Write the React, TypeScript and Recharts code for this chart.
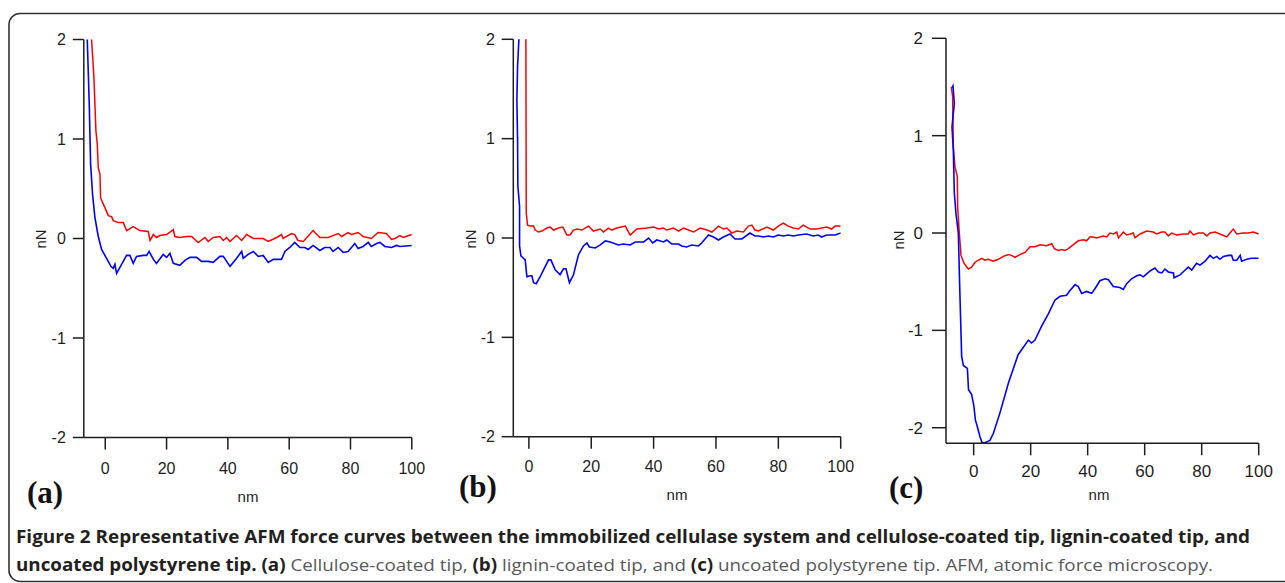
import React from "react";
import { LineChart, Line, XAxis, YAxis } from "recharts";

// ---------- Panel (a): cellulose-coated tip ----------
const aRedX = [-4.55, -4.46, -3.7, -3.04, -2.61, -2.28, -1.74, -1.52, -0.87, -0.11, 0.98, 2.07, 2.61, 4.24, 5.87, 6.96, 9.13, 11.3, 14.0, 14.6, 15.7, 16.7, 17.8, 20.0, 22.2, 22.7, 24.3, 26.5, 28.2, 30.3, 32.5, 33.6, 35.2, 37.4, 38.5, 39.6, 40.7, 42.8, 44.5, 46.1, 48.3, 51.5, 53.2, 55.9, 57.5, 58.0, 60.8, 61.8, 62.9, 64.6, 67.8, 70.0, 72.7, 76.0, 77.1, 79.2, 80.3, 82.5, 84.1, 86.8, 89.0, 91.7, 93.4, 94.5, 96.1, 97.2, 100];
const aRedY = [2.5, 2.0, 1.62, 1.08, 0.95, 0.71, 0.65, 0.41, 0.36, 0.31, 0.23, 0.22, 0.18, 0.16, 0.16, 0.08, 0.12, 0.08, 0.07, -0.02, 0.04, 0.01, 0.03, 0.04, 0.09, 0.02, 0.01, 0.02, 0.02, -0.04, 0.01, -0.03, 0.01, 0.02, -0.02, 0.01, -0.03, 0.03, -0.02, 0.04, 0.0, 0.0, -0.03, 0.01, 0.04, 0.0, 0.05, 0.04, -0.02, -0.03, 0.08, 0.01, 0.01, 0.05, 0.02, 0.06, 0.04, 0.06, 0.02, 0.0, 0.06, 0.05, -0.01, 0.0, 0.03, 0.01, 0.04];
const aBlueX = [-6.0, -5.87, -5.22, -4.78, -4.13, -3.37, -2.28, -1.2, 0.43, 1.85, 2.61, 3.15, 3.7, 5.33, 6.96, 8.04, 9.13, 10.2, 12.4, 13.5, 14.3, 15.7, 16.7, 18.9, 20.0, 21.1, 22.2, 24.3, 26.0, 27.6, 29.8, 31.4, 33.6, 35.2, 37.4, 38.5, 39.6, 40.7, 42.8, 44.5, 45.0, 46.6, 48.3, 49.9, 51.5, 53.2, 54.8, 57.5, 58.6, 60.2, 61.8, 63.5, 65.1, 66.2, 67.8, 70.0, 71.6, 73.3, 74.3, 76.0, 77.6, 79.2, 81.4, 82.5, 84.1, 85.8, 86.8, 88.5, 89.6, 91.2, 93.4, 95.0, 96.1, 100];
const aBlueY = [2.5, 2.0, 1.35, 0.75, 0.44, 0.21, 0.02, -0.11, -0.2, -0.28, -0.3, -0.26, -0.35, -0.26, -0.17, -0.17, -0.25, -0.18, -0.17, -0.17, -0.13, -0.21, -0.25, -0.16, -0.19, -0.15, -0.25, -0.27, -0.22, -0.19, -0.19, -0.23, -0.23, -0.24, -0.18, -0.18, -0.23, -0.28, -0.2, -0.13, -0.2, -0.16, -0.13, -0.18, -0.17, -0.24, -0.21, -0.21, -0.13, -0.09, -0.04, -0.09, -0.09, -0.11, -0.07, -0.12, -0.09, -0.09, -0.13, -0.09, -0.14, -0.13, -0.05, -0.1, -0.08, -0.04, -0.08, -0.05, -0.04, -0.08, -0.09, -0.07, -0.08, -0.07];

// ---------- Panel (b): lignin-coated tip ----------
const bRedX = [-1.0, -0.96, -0.85, -0.43, 0.43, 1.5, 2.03, 3.1, 4.17, 5.77, 6.84, 7.9, 9.5, 10.9, 12.2, 13.2, 14.3, 15.4, 17.0, 19.1, 20.7, 22.9, 23.9, 25.5, 26.6, 28.2, 30.9, 32.5, 34.6, 37.8, 40.0, 41.6, 43.2, 44.2, 46.4, 48.0, 49.6, 51.2, 52.8, 54.9, 57.1, 58.7, 60.8, 62.4, 63.5, 65.1, 66.7, 68.8, 70.4, 71.5, 72.5, 73.6, 76.3, 78.4, 80.0, 81.6, 83.2, 84.8, 86.4, 88.0, 90.2, 92.3, 95.5, 97.1, 98.2, 100];
const bRedY = [2.5, 2.0, 0.25, 0.13, 0.12, 0.12, 0.08, 0.06, 0.07, 0.1, 0.11, 0.08, 0.1, 0.11, 0.03, 0.03, 0.08, 0.09, 0.08, 0.12, 0.07, 0.09, 0.06, 0.1, 0.08, 0.1, 0.12, 0.03, 0.09, 0.1, 0.11, 0.09, 0.1, 0.08, 0.1, 0.07, 0.1, 0.08, 0.06, 0.1, 0.08, 0.06, 0.12, 0.09, 0.1, 0.05, 0.07, 0.06, 0.12, 0.13, 0.08, 0.07, 0.11, 0.08, 0.12, 0.15, 0.12, 0.1, 0.09, 0.13, 0.09, 0.09, 0.11, 0.09, 0.12, 0.12];
const bBlueX = [-3.1, -3.2, -3.63, -3.85, -3.63, -3.53, -2.99, -2.99, -2.56, -1.18, -0.64, 0.43, 0.96, 1.5, 2.35, 3.63, 4.7, 6.3, 7.05, 8.44, 10.0, 11.1, 11.9, 13.0, 14.3, 15.9, 17.5, 18.6, 19.4, 21.3, 22.9, 24.5, 26.1, 28.7, 30.3, 32.5, 34.1, 36.8, 38.4, 39.7, 41.0, 43.2, 44.2, 45.8, 48.0, 49.0, 50.6, 52.2, 54.4, 55.4, 57.6, 59.2, 60.8, 62.4, 64.5, 66.1, 68.3, 70.9, 72.5, 73.6, 75.2, 76.8, 78.4, 80.0, 81.6, 83.2, 84.8, 86.4, 89.1, 91.2, 92.8, 93.9, 95.5, 98.2, 100];
const bBlueY = [2.5, 2.0, 1.73, 1.39, 0.99, 0.52, 0.32, -0.08, -0.18, -0.22, -0.39, -0.38, -0.38, -0.45, -0.46, -0.39, -0.32, -0.22, -0.22, -0.32, -0.37, -0.31, -0.31, -0.45, -0.37, -0.17, -0.08, -0.05, -0.09, -0.1, -0.07, -0.03, -0.04, -0.07, -0.06, -0.07, -0.04, -0.04, 0.0, -0.05, -0.02, -0.04, -0.02, -0.06, -0.06, -0.08, -0.09, -0.07, -0.08, -0.05, 0.03, 0.01, -0.02, 0.01, 0.04, -0.01, -0.01, 0.05, 0.02, 0.02, 0.01, 0.02, 0.01, 0.03, 0.02, 0.03, 0.02, 0.03, 0.04, 0.02, 0.03, 0.01, 0.03, 0.03, 0.05];

// ---------- Panel (c): uncoated polystyrene tip ----------
const cRedX = [-7.84, -7.37, -7.13, -6.55, -5.73, -5.61, -5.03, -4.44, -3.39, -1.87, -0.7, 0.47, 2.81, 3.98, 5.15, 6.9, 8.65, 10.4, 12.2, 13.3, 14.5, 16.3, 18.0, 19.8, 21.5, 23.3, 25.6, 27.4, 28.3, 29.7, 30.9, 32.0, 33.2, 35.0, 36.7, 38.5, 39.6, 40.8, 42.0, 43.2, 44.3, 45.5, 46.7, 47.8, 49.0, 50.2, 50.8, 52.5, 53.7, 54.9, 56.0, 56.6, 58.4, 60.7, 63.0, 64.2, 66.0, 67.1, 68.3, 69.5, 71.2, 73.6, 75.3, 75.9, 77.1, 78.8, 80.6, 81.8, 82.9, 84.7, 86.4, 88.8, 89.9, 91.1, 92.3, 94.6, 96.4, 98.1, 100];
const cRedY = [1.5, 1.4, 0.89, 0.68, 0.58, 0.27, 0.0, -0.23, -0.31, -0.37, -0.35, -0.3, -0.26, -0.28, -0.27, -0.29, -0.27, -0.24, -0.22, -0.23, -0.25, -0.22, -0.2, -0.14, -0.14, -0.12, -0.13, -0.11, -0.16, -0.18, -0.17, -0.18, -0.16, -0.12, -0.08, -0.07, -0.08, -0.04, -0.04, -0.05, -0.04, -0.03, -0.04, 0.0, -0.01, 0.01, -0.05, 0.01, -0.02, -0.01, 0.0, -0.05, -0.01, 0.02, 0.01, -0.01, 0.01, 0.01, -0.03, 0.0, -0.02, -0.01, -0.01, 0.02, -0.02, 0.0, 0.0, -0.03, 0.0, 0.01, -0.01, -0.04, 0.0, 0.04, -0.01, 0.0, 0.0, 0.01, -0.01];
const cBlueX = [-7.6, -7.25, -6.78, -7.6, -7.13, -6.78, -6.2, -5.38, -4.8, -4.2, -3.6, -2.2, -1.8, -0.7, 0.1, 0.6, 1.3, 2.2, 2.9, 3.6, 4.3, 5.7, 6.9, 9.2, 12.2, 15.6, 19.2, 20.3, 21.5, 23.8, 26.2, 28.5, 30.3, 32.6, 33.8, 35.6, 36.7, 37.9, 39.6, 41.4, 42.6, 44.3, 46.1, 47.3, 49.0, 51.3, 52.5, 53.7, 55.4, 57.2, 58.4, 59.5, 60.7, 61.9, 63.6, 64.8, 66.0, 67.1, 68.3, 70.1, 70.3, 72.4, 74.2, 75.3, 76.5, 78.2, 79.4, 81.2, 82.9, 84.1, 85.3, 86.4, 87.6, 89.4, 90.5, 91.1, 92.3, 93.5, 94.0, 95.8, 97.5, 100];
const cBlueY = [1.49, 1.51, 1.33, 1.09, 0.85, 0.41, 0.2, 0.0, -0.65, -1.27, -1.36, -1.39, -1.61, -1.66, -1.78, -1.92, -1.99, -2.09, -2.15, -2.16, -2.15, -2.13, -2.06, -1.85, -1.54, -1.25, -1.1, -1.13, -1.1, -0.96, -0.83, -0.69, -0.65, -0.64, -0.59, -0.53, -0.55, -0.62, -0.6, -0.62, -0.57, -0.49, -0.47, -0.48, -0.55, -0.56, -0.58, -0.52, -0.47, -0.44, -0.43, -0.45, -0.42, -0.39, -0.36, -0.4, -0.41, -0.37, -0.4, -0.41, -0.46, -0.43, -0.38, -0.35, -0.38, -0.31, -0.33, -0.29, -0.23, -0.26, -0.24, -0.27, -0.24, -0.23, -0.23, -0.28, -0.28, -0.23, -0.29, -0.27, -0.26, -0.26];

const xTicks = [0, 20, 40, 60, 80, 100];
const yTicks = [-2, -1, 0, 1, 2];

const captionLine1 =
  "Figure 2 Representative AFM force curves between the immobilized cellulase system and cellulose-coated tip, lignin-coated tip, and";

const zip = (xs: number[], ys: number[]) => xs.map((x, i) => ({ x, y: ys[i] }));

const AX = "#1e1e1e";
const TICK_FONT = "'Liberation Sans', Arial, Helvetica, sans-serif";

type PanelProps = {
  left: number;
  width: number;
  xDomain: [number, number];
  yDomain: [number, number];
  margin: { top: number; right: number; bottom: number; left: number };
  yWidth: number;
  yTickSize: number;
  yTickMargin: number;
  xTickSize: number;
  xTickMargin: number;
  fontSize: number;
  red: { x: number; y: number }[];
  blue: { x: number; y: number }[];
};

function Panel(p: PanelProps) {
  const tick = { fill: AX, fontSize: p.fontSize, fontFamily: TICK_FONT };
  return (
    <div style={{ position: "absolute", left: p.left, top: 0 }}>
      <LineChart width={p.width} height={520} margin={p.margin}>
        <XAxis
          type="number"
          dataKey="x"
          domain={p.xDomain}
          ticks={xTicks}
          allowDataOverflow
          height={30}
          tick={tick}
          tickSize={p.xTickSize}
          tickMargin={p.xTickMargin}
          axisLine={{ stroke: AX, strokeWidth: 1.5 }}
          tickLine={{ stroke: AX, strokeWidth: 1.5 }}
          interval={0}
        />
        <YAxis
          type="number"
          dataKey="y"
          domain={p.yDomain}
          ticks={yTicks}
          allowDataOverflow
          width={p.yWidth}
          tick={tick}
          tickSize={p.yTickSize}
          tickMargin={p.yTickMargin}
          axisLine={{ stroke: AX, strokeWidth: 1.5 }}
          tickLine={{ stroke: AX, strokeWidth: 1.5 }}
          interval={0}
        />
        <Line
          data={p.red}
          dataKey="y"
          type="linear"
          stroke="#ff0000"
          strokeWidth={1.5}
          dot={false}
          isAnimationActive={false}
        />
        <Line
          data={p.blue}
          dataKey="y"
          type="linear"
          stroke="#0000ff"
          strokeWidth={1.6}
          dot={false}
          isAnimationActive={false}
        />
      </LineChart>
    </div>
  );
}

export default function App() {
  const labelFont = { fontFamily: TICK_FONT, fontSize: 15, fill: AX };
  const panelFont = {
    fontFamily: "'Liberation Serif', 'Times New Roman', serif",
    fontWeight: 700,
    fontSize: 31,
    fill: "#111",
  };
  const capFont = "'Open Sans', 'Noto Sans', sans-serif";
  return (
    <div style={{ position: "absolute", left: 0, top: 0, width: 1285, height: 583, background: "#fff", overflow: "hidden" }}>
      <svg width={1285} height={583} style={{ position: "absolute", left: 0, top: 0 }}>
        <rect x={9} y={13.5} width={1320} height={568} rx={11} ry={11} fill="none" stroke="#333" strokeWidth={1.6} />
        <text x={40} y={239} transform="rotate(-90 40 239)" textAnchor="middle" dominantBaseline="central" {...labelFont}>nN</text>
        <text x={470} y={239} transform="rotate(-90 470 239)" textAnchor="middle" dominantBaseline="central" {...labelFont}>nN</text>
        <text x={898} y={240} transform="rotate(-90 898 240)" textAnchor="middle" dominantBaseline="central" {...labelFont}>nN</text>
        <text x={248} y={502} textAnchor="middle" {...labelFont}>nm</text>
        <text x={677} y={500} textAnchor="middle" {...labelFont}>nm</text>
        <text x={1099} y={500} textAnchor="middle" {...labelFont}>nm</text>
        <text x={27} y={503} {...panelFont}>(a)</text>
        <text x={459} y={497} {...panelFont}>(b)</text>
        <text x={889} y={498} {...panelFont}>(c)</text>
        <text x={16} y={543} fontFamily={capFont} fontSize={17} fontWeight={700} fill="#231f20" textLength={1234} lengthAdjust="spacingAndGlyphs">
          {captionLine1}
        </text>
        <text x={16} y={571} fontFamily={capFont} fontSize={17} fill="#58595b" textLength={1197} lengthAdjust="spacingAndGlyphs">
          <tspan fontWeight={700} fill="#231f20">uncoated polystyrene tip.</tspan>
          <tspan> </tspan>
          <tspan fontWeight={700} fill="#231f20">(a)</tspan>
          <tspan> Cellulose-coated tip, </tspan>
          <tspan fontWeight={700} fill="#231f20">(b)</tspan>
          <tspan> lignin-coated tip, and </tspan>
          <tspan fontWeight={700} fill="#231f20">(c)</tspan>
          <tspan> uncoated polystyrene tip. AFM, atomic force microscopy.</tspan>
        </text>
      </svg>
      <Panel
        left={0}
        width={430}
        xDomain={[-7, 100]}
        yDomain={[-2, 2]}
        margin={{ top: 39.5, right: 18.2, bottom: 52.5, left: 0 }}
        yWidth={83.8}
        yTickSize={11}
        yTickMargin={7}
        xTickSize={12}
        xTickMargin={13}
        fontSize={16}
        red={zip(aRedX, aRedY)}
        blue={zip(aBlueX, aBlueY)}
      />
      <Panel
        left={430}
        width={430}
        xDomain={[-5, 100]}
        yDomain={[-2, 2]}
        margin={{ top: 39.3, right: 19.3, bottom: 53.3, left: 0 }}
        yWidth={83.3}
        yTickSize={11.6}
        yTickMargin={6.7}
        xTickSize={12}
        xTickMargin={12}
        fontSize={16}
        red={zip(bRedX, bRedY)}
        blue={zip(bBlueX, bBlueY)}
      />
      <Panel
        left={860}
        width={425}
        xDomain={[-9.7, 100]}
        yDomain={[-2.16, 2]}
        margin={{ top: 38.3, right: 26.3, bottom: 46.7, left: 0 }}
        yWidth={86}
        yTickSize={14}
        yTickMargin={9}
        xTickSize={12}
        xTickMargin={10}
        fontSize={17}
        red={zip(cRedX, cRedY)}
        blue={zip(cBlueX, cBlueY)}
      />
    </div>
  );
}
